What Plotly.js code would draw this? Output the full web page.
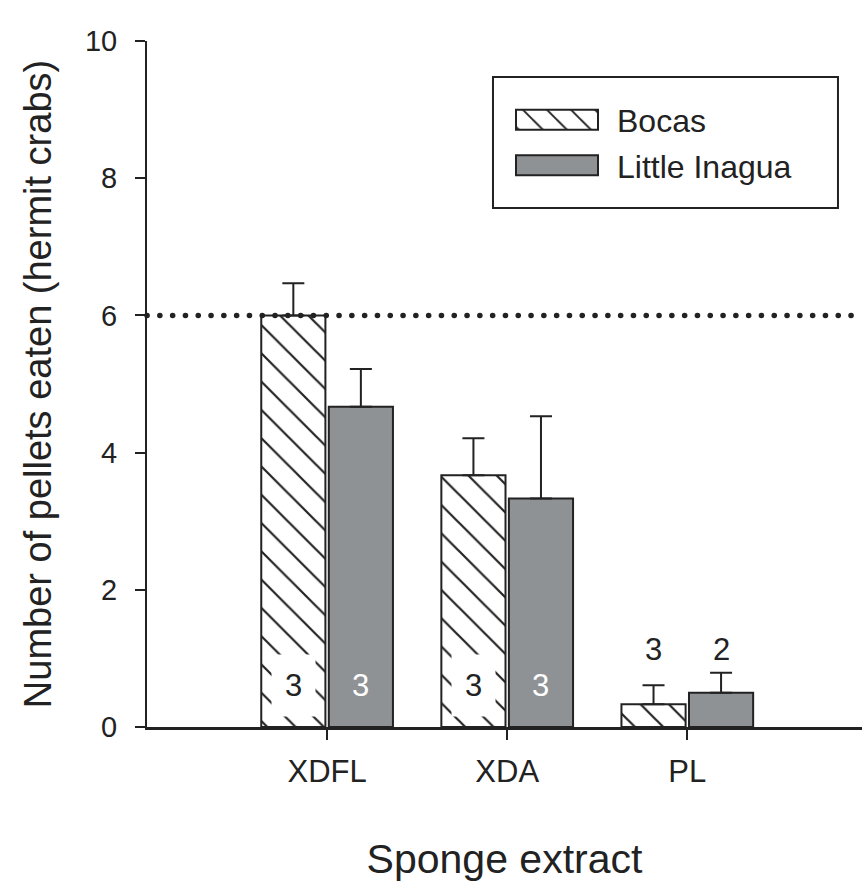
<!DOCTYPE html>
<html><head><meta charset="utf-8">
<script src="https://cdn.plot.ly/plotly-3.0.1.min.js"></script>
<style>
html,body{margin:0;padding:0;background:#fff}
#chart{width:862px;height:882px}
.shapelayer path{stroke-linecap:round}
</style>
</head><body><div id="chart"></div>
<script>
// ---- data ----
const categories = ['XDFL', 'XDA', 'PL'];
const bocasMean = [6.0, 3.67, 0.33];
const bocasSE = [0.47, 0.54, 0.28];
const inaguaMean = [4.67, 3.33, 0.5];
const inaguaSE = [0.55, 1.2, 0.29];
const bocasN = [3, 3, 3];
const inaguaN = [3, 3, 2];
const pelletsOffered = 6;
// which sample-size labels sit inside the bar (true) or above it (false)
const labelInside = [true, true, false];

// ---- style ----
const INK = '#222';
const GREY = '#8f9295';
const FONT = 'Liberation Sans, Arial, Helvetica, sans-serif';
const BARGAP = 0.25;
const GROUPGAP = 0.05;
const off = (1 - BARGAP) / 4; // centre offset of each bar within a category

const zeros = categories.map(() => 0);

const traces = [
  {
    type: 'bar', name: 'Bocas', x: categories, y: bocasMean,
    legendgroup: 'a',
    marker: {
      color: 'white',
      line: {color: INK, width: 2},
      pattern: {shape: '\\', fgcolor: INK, bgcolor: 'white', size: 20, solidity: 0.11}
    },
    error_y: {type: 'data', symmetric: false, array: bocasSE, arrayminus: zeros,
      color: INK, thickness: 2, width: 11},
    hoverinfo: 'skip'
  },
  {
    type: 'bar', name: 'Little Inagua', x: categories, y: inaguaMean,
    legendgroup: 'b',
    marker: {color: GREY, line: {color: INK, width: 2}},
    error_y: {type: 'data', symmetric: false, array: inaguaSE, arrayminus: zeros,
      color: INK, thickness: 2, width: 11},
    hoverinfo: 'skip'
  }
];

const annotations = [];
categories.forEach((c, i) => {
  if (labelInside[i]) {
    annotations.push({x: i - off, y: 0, yanchor: 'bottom', yshift: 10, text: String(bocasN[i]),
      showarrow: false, font: {size: 31, color: INK}, bgcolor: 'white', borderpad: 13});
    annotations.push({x: i + off, y: 0, yanchor: 'bottom', yshift: 10, text: String(inaguaN[i]),
      showarrow: false, font: {size: 31, color: 'white'}, borderpad: 13});
  } else {
    const top = Math.max(bocasMean[i] + bocasSE[i], inaguaMean[i] + inaguaSE[i]);
    annotations.push({x: i - off, y: top, yanchor: 'bottom', yshift: 4, text: String(bocasN[i]),
      showarrow: false, font: {size: 31, color: INK}});
    annotations.push({x: i + off, y: top, yanchor: 'bottom', yshift: 4, text: String(inaguaN[i]),
      showarrow: false, font: {size: 31, color: INK}});
  }
});

const layout = {
  width: 862, height: 882,
  margin: {l: 147, r: 0, t: 41, b: 155, pad: 0},
  paper_bgcolor: 'white', plot_bgcolor: 'white',
  font: {family: FONT, color: INK},
  barmode: 'group', bargap: BARGAP, bargroupgap: GROUPGAP,
  showlegend: true,
  legend: {
    x: 0.4895, y: 0.925, xanchor: 'left', yanchor: 'top',
    font: {size: 32, color: INK}, itemwidth: 110,
    traceorder: 'grouped', tracegroupgap: 1,
    bgcolor: 'rgba(0,0,0,0)', borderwidth: 0
  },
  xaxis: {
    type: 'category', range: [-1, 2.97],
    showline: true, linewidth: 3, linecolor: INK,
    ticks: 'outside', ticklen: 10, tickwidth: 2, tickcolor: INK,
    tickfont: {size: 31}, ticklabelstandoff: 5, showgrid: false, zeroline: false,
    title: {text: 'Sponge extract', font: {size: 41}, standoff: 58},
    fixedrange: true
  },
  yaxis: {
    range: [0, 10], tickvals: [0, 2, 4, 6, 8, 10],
    showline: true, linewidth: 2, linecolor: INK,
    ticks: 'outside', ticklen: 10, tickwidth: 2, tickcolor: INK,
    tickfont: {size: 29}, ticklabelstandoff: 12, showgrid: false, zeroline: false,
    title: {text: 'Number of pellets eaten (hermit crabs)', font: {size: 38}, standoff: 22},
    fixedrange: true
  },
  shapes: [
    {type: 'line', xref: 'paper', x0: 0, x1: 0.985, yref: 'y', y0: pelletsOffered, y1: pelletsOffered,
      line: {color: INK, width: 5.5, dash: '0.1px,12.7px'}, layer: 'above'},
    {type: 'rect', xref: 'paper', yref: 'paper', x0: 0.4839, x1: 0.9664, y0: 0.7566, y1: 0.9475,
      line: {color: INK, width: 2}, fillcolor: 'rgba(0,0,0,0)'}
  ],
  annotations: annotations
};

function widenLegendSymbols(gd) {
  gd.querySelectorAll('.legend .legendpoints path').forEach(p => {
    const d = p.getAttribute('d') || '';
    if (d.indexOf('M6,6') === 0) p.setAttribute('d', 'M41,10H-41V-10H41Z');
    const fill = p.style.fill || p.getAttribute('fill') || '';
    const m = fill.match(/url\(["']?#([^"')]+)["']?\)/);
    if (m) {
      const pat = document.getElementById(m[1]);
      if (pat && !pat.dataset.scaled) {
        pat.setAttribute('patternTransform', 'scale(1.7)');
        pat.dataset.scaled = '1';
      }
    }
  });
}

Plotly.newPlot('chart', traces, layout, {displayModeBar: false, staticPlot: true}).then(gd => {
  widenLegendSymbols(gd);
});
</script>
</body></html>
